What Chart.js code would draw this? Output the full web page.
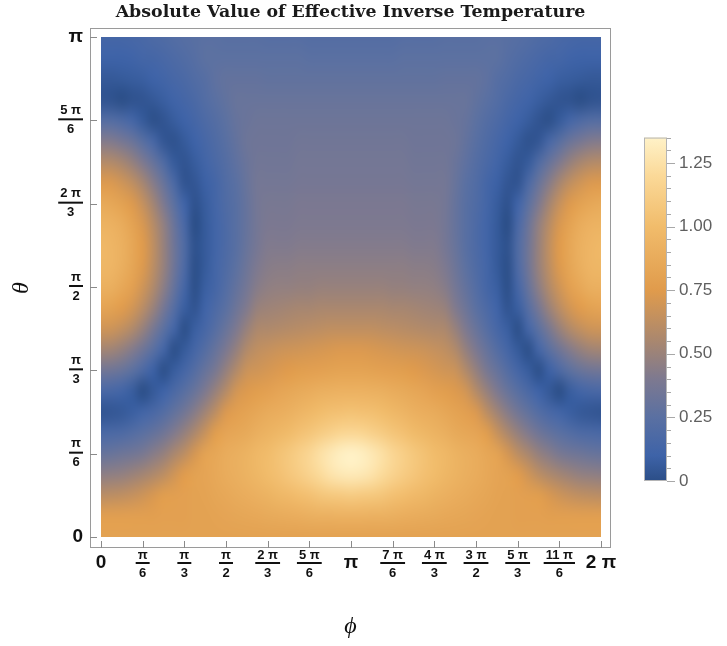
<!DOCTYPE html>
<html><head><meta charset="utf-8">
<script src="https://cdn.jsdelivr.net/npm/chart.js@4.4.1/dist/chart.umd.min.js"></script>
<style>html,body{margin:0;padding:0;background:#fff;}canvas{display:block;}</style>
</head><body>
<canvas id="c" width="727" height="646"></canvas>
<script>
const PI = Math.PI;
const chartTitle = 'Absolute Value of Effective Inverse Temperature';
const xAxisTitle = 'ϕ';
const yAxisTitle = 'θ';

// grid nodes: phi and theta in units of PI/24
const phiUnits = [0,1,2,3,4,5,6,7,8,9,10,11,12,13,14,15,16,17,18,19,20,21,22,23,24,25,26,27,28,29,30,31,32,33,34,35,36,37,38,39,40,41,42,43,44,45,46,47,48];
const thetaUnits = [0,1,2,3,4,5,6,7,8,9,10,11,12,13,14,15,16,17,18,19,20,21,22,23,24];

// |beta_eff|, one row per theta node (theta = 0 ... pi), phi = 0 ... 2pi
const th00 = [0.80,0.80,0.80,0.80,0.80,0.80,0.80,0.80,0.80,0.80,0.80,0.80,0.80,0.80,0.80,0.80,0.80,0.80,0.80,0.80,0.80,0.80,0.80,0.80,0.80,0.80,0.80,0.80,0.80,0.80,0.80,0.80,0.80,0.80,0.80,0.80,0.80,0.80,0.80,0.80,0.80,0.80,0.80,0.80,0.80,0.80,0.80,0.80,0.80];
const th01 = [0.78,0.78,0.78,0.78,0.78,0.78,0.79,0.79,0.79,0.80,0.80,0.81,0.82,0.83,0.84,0.85,0.86,0.87,0.88,0.89,0.90,0.91,0.91,0.92,0.92,0.92,0.91,0.91,0.90,0.89,0.88,0.87,0.86,0.85,0.84,0.83,0.82,0.81,0.80,0.80,0.79,0.79,0.79,0.78,0.78,0.78,0.78,0.78,0.78];
const th02 = [0.61,0.62,0.63,0.65,0.68,0.72,0.77,0.78,0.79,0.80,0.81,0.83,0.85,0.87,0.89,0.91,0.93,0.96,0.98,1.01,1.03,1.06,1.08,1.09,1.10,1.09,1.08,1.06,1.03,1.01,0.98,0.96,0.93,0.91,0.89,0.87,0.85,0.83,0.81,0.80,0.79,0.78,0.77,0.72,0.68,0.65,0.63,0.62,0.61];
const th03 = [0.45,0.46,0.47,0.50,0.53,0.57,0.62,0.69,0.76,0.80,0.82,0.85,0.88,0.90,0.93,0.96,1.00,1.03,1.07,1.11,1.16,1.21,1.26,1.29,1.30,1.29,1.26,1.21,1.16,1.11,1.07,1.03,1.00,0.96,0.93,0.90,0.88,0.85,0.82,0.80,0.76,0.69,0.62,0.57,0.53,0.50,0.47,0.46,0.45];
const th04 = [0.30,0.31,0.33,0.35,0.38,0.43,0.48,0.55,0.62,0.71,0.81,0.84,0.88,0.90,0.93,0.97,1.00,1.04,1.08,1.13,1.18,1.24,1.29,1.33,1.35,1.33,1.29,1.24,1.18,1.13,1.08,1.04,1.00,0.97,0.93,0.90,0.88,0.84,0.81,0.71,0.62,0.55,0.48,0.43,0.38,0.35,0.33,0.31,0.30];
const th05 = [0.16,0.17,0.18,0.21,0.25,0.29,0.34,0.41,0.48,0.56,0.66,0.77,0.82,0.84,0.86,0.90,0.93,0.96,0.99,1.03,1.06,1.10,1.14,1.17,1.18,1.17,1.14,1.10,1.06,1.03,0.99,0.96,0.93,0.90,0.86,0.84,0.82,0.77,0.66,0.56,0.48,0.41,0.34,0.29,0.25,0.21,0.18,0.17,0.16];
const th06 = [0.03,0.04,0.05,0.08,0.12,0.16,0.21,0.28,0.35,0.43,0.52,0.62,0.73,0.78,0.81,0.84,0.87,0.89,0.91,0.94,0.97,1.00,1.02,1.03,1.04,1.03,1.02,1.00,0.97,0.94,0.91,0.89,0.87,0.84,0.81,0.78,0.73,0.62,0.52,0.43,0.35,0.28,0.21,0.16,0.12,0.08,0.05,0.04,0.03];
const th07 = [0.16,0.15,0.12,0.07,0.00,0.05,0.10,0.17,0.24,0.31,0.40,0.49,0.59,0.70,0.74,0.77,0.79,0.82,0.84,0.86,0.88,0.90,0.91,0.92,0.92,0.92,0.91,0.90,0.88,0.86,0.84,0.82,0.79,0.77,0.74,0.70,0.59,0.49,0.40,0.31,0.24,0.17,0.10,0.05,0.00,0.07,0.12,0.15,0.16];
const th08 = [0.35,0.34,0.31,0.26,0.18,0.09,0.01,0.07,0.14,0.22,0.30,0.38,0.48,0.58,0.67,0.69,0.71,0.73,0.75,0.77,0.78,0.79,0.80,0.81,0.81,0.81,0.80,0.79,0.78,0.77,0.75,0.73,0.71,0.69,0.67,0.58,0.48,0.38,0.30,0.22,0.14,0.07,0.01,0.09,0.18,0.26,0.31,0.34,0.35];
const th09 = [0.53,0.52,0.48,0.42,0.34,0.25,0.13,0.01,0.06,0.14,0.22,0.30,0.39,0.48,0.58,0.63,0.65,0.67,0.68,0.69,0.70,0.71,0.72,0.73,0.73,0.73,0.72,0.71,0.70,0.69,0.68,0.67,0.65,0.63,0.58,0.48,0.39,0.30,0.22,0.14,0.06,0.01,0.13,0.25,0.34,0.42,0.48,0.52,0.53];
const th10 = [0.69,0.68,0.64,0.58,0.49,0.38,0.26,0.13,0.01,0.08,0.15,0.23,0.31,0.40,0.49,0.56,0.57,0.58,0.59,0.60,0.61,0.62,0.63,0.63,0.63,0.63,0.63,0.62,0.61,0.60,0.59,0.58,0.57,0.56,0.49,0.40,0.31,0.23,0.15,0.08,0.01,0.13,0.26,0.38,0.49,0.58,0.64,0.68,0.69];
const th11 = [0.82,0.80,0.76,0.70,0.61,0.50,0.37,0.23,0.08,0.03,0.11,0.18,0.25,0.33,0.41,0.49,0.51,0.52,0.53,0.54,0.54,0.55,0.55,0.55,0.55,0.55,0.55,0.55,0.54,0.54,0.53,0.52,0.51,0.49,0.41,0.33,0.25,0.18,0.11,0.03,0.08,0.23,0.37,0.50,0.61,0.70,0.76,0.80,0.82];
const th12 = [0.91,0.90,0.85,0.79,0.69,0.58,0.45,0.30,0.14,0.01,0.08,0.14,0.21,0.29,0.36,0.43,0.46,0.47,0.47,0.48,0.48,0.49,0.49,0.49,0.49,0.49,0.49,0.49,0.48,0.48,0.47,0.47,0.46,0.43,0.36,0.29,0.21,0.14,0.08,0.01,0.14,0.30,0.45,0.58,0.69,0.79,0.85,0.90,0.91];
const th13 = [0.96,0.95,0.90,0.83,0.74,0.62,0.49,0.34,0.18,0.01,0.06,0.13,0.19,0.26,0.33,0.40,0.43,0.44,0.44,0.45,0.45,0.45,0.45,0.45,0.45,0.45,0.45,0.45,0.45,0.45,0.44,0.44,0.43,0.40,0.33,0.26,0.19,0.13,0.06,0.01,0.18,0.34,0.49,0.62,0.74,0.83,0.90,0.95,0.96];
const th14 = [0.97,0.95,0.91,0.84,0.75,0.63,0.49,0.34,0.19,0.02,0.06,0.12,0.18,0.24,0.31,0.37,0.41,0.41,0.41,0.42,0.42,0.42,0.42,0.42,0.42,0.42,0.42,0.42,0.42,0.42,0.41,0.41,0.41,0.37,0.31,0.24,0.18,0.12,0.06,0.02,0.19,0.34,0.49,0.63,0.75,0.84,0.91,0.95,0.97];
const th15 = [0.93,0.92,0.88,0.81,0.72,0.60,0.47,0.32,0.16,0.00,0.06,0.12,0.18,0.24,0.30,0.36,0.39,0.39,0.39,0.40,0.40,0.40,0.40,0.40,0.40,0.40,0.40,0.40,0.40,0.40,0.39,0.39,0.39,0.36,0.30,0.24,0.18,0.12,0.06,0.00,0.16,0.32,0.47,0.60,0.72,0.81,0.88,0.92,0.93];
const th16 = [0.86,0.84,0.80,0.74,0.65,0.53,0.40,0.26,0.11,0.02,0.07,0.13,0.19,0.24,0.30,0.36,0.38,0.38,0.38,0.39,0.39,0.39,0.39,0.39,0.39,0.39,0.39,0.39,0.39,0.39,0.38,0.38,0.38,0.36,0.30,0.24,0.19,0.13,0.07,0.02,0.11,0.26,0.40,0.53,0.65,0.74,0.80,0.84,0.86];
const th17 = [0.74,0.73,0.69,0.63,0.54,0.43,0.31,0.17,0.03,0.04,0.09,0.14,0.20,0.25,0.31,0.36,0.36,0.36,0.36,0.37,0.37,0.37,0.37,0.37,0.37,0.37,0.37,0.37,0.37,0.37,0.36,0.36,0.36,0.36,0.31,0.25,0.20,0.14,0.09,0.04,0.03,0.17,0.31,0.43,0.54,0.63,0.69,0.73,0.74];
const th18 = [0.59,0.58,0.54,0.48,0.40,0.30,0.19,0.06,0.03,0.07,0.12,0.17,0.22,0.27,0.32,0.35,0.35,0.35,0.35,0.36,0.36,0.36,0.36,0.36,0.36,0.36,0.36,0.36,0.36,0.36,0.35,0.35,0.35,0.35,0.32,0.27,0.22,0.17,0.12,0.07,0.03,0.06,0.19,0.30,0.40,0.48,0.54,0.58,0.59];
const th19 = [0.42,0.41,0.37,0.32,0.24,0.15,0.04,0.02,0.06,0.10,0.15,0.19,0.24,0.29,0.33,0.34,0.34,0.34,0.34,0.35,0.35,0.35,0.35,0.35,0.35,0.35,0.35,0.35,0.35,0.35,0.34,0.34,0.34,0.34,0.33,0.29,0.24,0.19,0.15,0.10,0.06,0.02,0.04,0.15,0.24,0.32,0.37,0.41,0.42];
const th20 = [0.22,0.21,0.18,0.13,0.06,0.01,0.03,0.07,0.10,0.14,0.18,0.22,0.26,0.30,0.32,0.33,0.33,0.33,0.33,0.33,0.33,0.33,0.33,0.33,0.33,0.33,0.33,0.33,0.33,0.33,0.33,0.33,0.33,0.33,0.32,0.30,0.26,0.22,0.18,0.14,0.10,0.07,0.03,0.01,0.06,0.13,0.18,0.21,0.22];
const th21 = [0.03,0.02,0.00,0.02,0.03,0.05,0.08,0.11,0.14,0.17,0.21,0.25,0.28,0.31,0.31,0.31,0.31,0.31,0.31,0.31,0.31,0.31,0.31,0.31,0.31,0.31,0.31,0.31,0.31,0.31,0.31,0.31,0.31,0.31,0.31,0.31,0.28,0.25,0.21,0.17,0.14,0.11,0.08,0.05,0.03,0.02,0.00,0.02,0.03];
const th22 = [0.05,0.05,0.06,0.07,0.08,0.10,0.12,0.15,0.17,0.20,0.23,0.27,0.29,0.29,0.29,0.29,0.28,0.28,0.28,0.28,0.28,0.28,0.28,0.28,0.28,0.28,0.28,0.28,0.28,0.28,0.28,0.28,0.28,0.29,0.29,0.29,0.29,0.27,0.23,0.20,0.17,0.15,0.12,0.10,0.08,0.07,0.06,0.05,0.05];
const th23 = [0.10,0.10,0.10,0.11,0.13,0.14,0.16,0.18,0.20,0.23,0.26,0.26,0.26,0.26,0.26,0.26,0.26,0.26,0.26,0.26,0.25,0.25,0.25,0.25,0.25,0.25,0.25,0.25,0.25,0.26,0.26,0.26,0.26,0.26,0.26,0.26,0.26,0.26,0.26,0.23,0.20,0.18,0.16,0.14,0.13,0.11,0.10,0.10,0.10];
const th24 = [0.14,0.14,0.14,0.15,0.16,0.18,0.19,0.21,0.23,0.24,0.25,0.25,0.24,0.24,0.24,0.24,0.23,0.23,0.23,0.23,0.22,0.22,0.22,0.22,0.22,0.22,0.22,0.22,0.22,0.23,0.23,0.23,0.23,0.24,0.24,0.24,0.24,0.25,0.25,0.24,0.23,0.21,0.19,0.18,0.16,0.15,0.14,0.14,0.14];
const betaRows = [th00,th01,th02,th03,th04,th05,th06,th07,th08,th09,th10,th11,th12,th13,th14,th15,th16,th17,th18,th19,th20,th21,th22,th23,th24];

// tick labels (positions in units of PI/6)
const xTickUnits = [0,1,2,3,4,5,6,7,8,9,10,11,12];
const xTickNum = ['0','π','π','π','2 π','5 π','π','7 π','4 π','3 π','5 π','11 π','2 π'];
const xTickDen = ['','6','3','2','3','6','','6','3','2','3','6',''];
const yTickUnits = [0,1,2,3,4,5,6];
const yTickNum = ['0','π','π','π','2 π','5 π','π'];
const yTickDen = ['','6','3','2','3','6',''];

// colour bar
const cbRange = [0, 1.35];
const cbTicks = [0, 0.25, 0.5, 0.75, 1.0, 1.25];
const cbLabels = ['0','0.25','0.50','0.75','1.00','1.25'];
const cmapValues = [0, 0.1, 0.25, 0.4, 0.55, 0.75, 1.0, 1.2, 1.35];
const cmapColors = ['#2b4e87','#3e63a8','#5a70a2','#7d7990','#a9876f','#e09b4c','#f1bc6b','#fbd998','#fff2c8'];

function hexRgb(h){return [parseInt(h.slice(1,3),16),parseInt(h.slice(3,5),16),parseInt(h.slice(5,7),16)];}
const cmapRgb = cmapColors.map(hexRgb);
function colorFor(v){
  if (v <= cmapValues[0]) return cmapRgb[0];
  for (let k = 1; k < cmapValues.length; k++) {
    if (v <= cmapValues[k]) {
      const t = (v - cmapValues[k-1]) / (cmapValues[k] - cmapValues[k-1]);
      const a = cmapRgb[k-1], b = cmapRgb[k];
      return [a[0]+(b[0]-a[0])*t, a[1]+(b[1]-a[1])*t, a[2]+(b[2]-a[2])*t];
    }
  }
  return cmapRgb[cmapRgb.length-1];
}

const points = [];
thetaUnits.forEach((ti, i) => {
  phiUnits.forEach((pj, j) => {
    points.push({x: pj * PI / 24, y: ti * PI / 24, v: betaRows[i][j], i: i, j: j});
  });
});

const FONT = '"Liberation Sans", Arial, sans-serif';

const heatPlugin = {
  id: 'heat',
  beforeDatasetsDraw(chart) {
    const ctx = chart.ctx, xs = chart.scales.x, ys = chart.scales.y;
    const nx = phiUnits.length, ny = thetaUnits.length;
    const off = document.createElement('canvas');
    off.width = nx; off.height = ny;
    const octx = off.getContext('2d');
    const img = octx.createImageData(nx, ny);
    chart.data.datasets[0].data.forEach(p => {
      const c = colorFor(p.v);
      const idx = ((ny - 1 - p.i) * nx + p.j) * 4;
      img.data[idx] = Math.round(c[0]); img.data[idx+1] = Math.round(c[1]);
      img.data[idx+2] = Math.round(c[2]); img.data[idx+3] = 255;
    });
    octx.putImageData(img, 0, 0);
    const x0 = xs.getPixelForValue(phiUnits[0] * PI / 24);
    const x1 = xs.getPixelForValue(phiUnits[nx-1] * PI / 24);
    const y0 = ys.getPixelForValue(thetaUnits[0] * PI / 24);
    const y1 = ys.getPixelForValue(thetaUnits[ny-1] * PI / 24);
    const sx = (x1 - x0) / (nx - 1), sy = (y0 - y1) / (ny - 1);
    ctx.save();
    ctx.beginPath(); ctx.rect(x0, y1, x1 - x0, y0 - y1); ctx.clip();
    ctx.imageSmoothingEnabled = true; ctx.imageSmoothingQuality = 'high';
    ctx.drawImage(off, x0 - sx / 2, y1 - sy / 2, nx * sx, ny * sy);
    ctx.restore();
  },
  afterDraw(chart) {
    const ctx = chart.ctx, xs = chart.scales.x, ys = chart.scales.y, cs = chart.scales.cb;
    const ca = chart.chartArea;
    ctx.save();
    // frame
    ctx.strokeStyle = '#9a9a9a'; ctx.lineWidth = 1;
    ctx.strokeRect(ca.left + 0.5, ca.top + 0.5, ca.right - ca.left - 1, ca.bottom - ca.top - 1);
    // ticks
    ctx.strokeStyle = '#8a8a8a';
    ctx.beginPath();
    xTickUnits.forEach(u => {
      const px = Math.round(xs.getPixelForValue(u * PI / 6)) + 0.5;
      ctx.moveTo(px, ca.bottom); ctx.lineTo(px, ca.bottom - 7);
    });
    yTickUnits.forEach(u => {
      const py = Math.round(ys.getPixelForValue(u * PI / 6)) + 0.5;
      ctx.moveTo(ca.left, py); ctx.lineTo(ca.left + 7, py);
    });
    ctx.stroke();
    // tick labels
    ctx.fillStyle = '#111';
    const big = 'bold 19px ' + FONT, small = 'bold 13px ' + FONT;
    ctx.textBaseline = 'middle';
    xTickUnits.forEach((u, k) => {
      const px = xs.getPixelForValue(u * PI / 6);
      const ly = ca.bottom + 15;
      ctx.textAlign = 'center';
      if (!xTickDen[k]) {
        ctx.font = big; ctx.fillText(xTickNum[k], px, ly);
      } else {
        ctx.font = small;
        const w = Math.max(ctx.measureText(xTickNum[k]).width, ctx.measureText(xTickDen[k]).width) + 4;
        ctx.fillText(xTickNum[k], px, ly - 8);
        ctx.fillRect(px - w / 2, ly - 1, w, 2);
        ctx.fillText(xTickDen[k], px, ly + 10);
      }
    });
    const rx = ca.left - 7;
    yTickUnits.forEach((u, k) => {
      const py = ys.getPixelForValue(u * PI / 6);
      if (!yTickDen[k]) {
        ctx.font = big; ctx.textAlign = 'right'; ctx.fillText(yTickNum[k], rx, py);
      } else {
        ctx.font = small; ctx.textAlign = 'center';
        const w = Math.max(ctx.measureText(yTickNum[k]).width, ctx.measureText(yTickDen[k]).width) + 4;
        const cx = rx - w / 2;
        ctx.fillText(yTickNum[k], cx, py - 10);
        ctx.fillRect(cx - w / 2, py - 2, w, 2);
        ctx.fillText(yTickDen[k], cx, py + 9);
      }
    });
    // axis titles
    ctx.font = 'italic 24px "Liberation Serif", "Times New Roman", serif';
    ctx.textAlign = 'center'; ctx.textBaseline = 'middle';
    ctx.fillText(xAxisTitle, (ca.left + ca.right) / 2, ca.bottom + 79);
    ctx.save();
    ctx.translate(22, (ca.top + ca.bottom) / 2);
    ctx.rotate(-PI / 2);
    ctx.fillText(yAxisTitle, 0, 0);
    ctx.restore();
    // title
    let ts = 15;
    ctx.font = 'bold ' + ts + 'px "DejaVu Serif", serif';
    ts = ts * 470 / ctx.measureText(chartTitle).width;
    ctx.font = 'bold ' + ts.toFixed(2) + 'px "DejaVu Serif", serif';
    ctx.fillStyle = '#1a1a1a';
    ctx.textBaseline = 'alphabetic';
    ctx.fillText(chartTitle, (ca.left + ca.right) / 2, 17);
    // colour bar
    const bx = cs.left + 33, bw = 23;
    const yb0 = cs.getPixelForValue(cbRange[0]), yb1 = cs.getPixelForValue(cbRange[1]);
    const g = ctx.createLinearGradient(0, yb0, 0, yb1);
    cmapValues.forEach((v, k) => g.addColorStop((v - cbRange[0]) / (cbRange[1] - cbRange[0]), cmapColors[k]));
    ctx.fillStyle = g;
    ctx.fillRect(bx, yb1, bw, yb0 - yb1);
    ctx.strokeStyle = '#b5b5b5';
    ctx.strokeRect(bx + 0.5, yb1 + 0.5, bw - 1, yb0 - yb1 - 1);
    ctx.strokeStyle = '#a8a8a8';
    ctx.beginPath();
    for (let m = 0; m <= 27; m++) {
      const v = m * 0.05;
      const py = Math.round(cs.getPixelForValue(v)) + 0.5;
      const major = (m % 5 === 0);
      ctx.moveTo(bx + bw, py); ctx.lineTo(bx + bw + (major ? 8 : 4), py);
    }
    ctx.stroke();
    ctx.fillStyle = '#5f5f5f';
    ctx.font = '17px ' + FONT;
    ctx.textAlign = 'left'; ctx.textBaseline = 'middle';
    cbTicks.forEach((v, k) => {
      ctx.fillText(cbLabels[k], bx + bw + 12, cs.getPixelForValue(v));
    });
    ctx.restore();
  }
};

new Chart(document.getElementById('c'), {
  type: 'scatter',
  data: { datasets: [{ data: points, pointRadius: 0, pointHoverRadius: 0, showLine: false }] },
  options: {
    responsive: false, animation: false, devicePixelRatio: 1, events: [],
    layout: { padding: { top: 28, left: 0, right: 0, bottom: 0 } },
    plugins: { legend: { display: false }, tooltip: { enabled: false }, title: { display: false } },
    scales: {
      x: { type: 'linear', min: -0.1382, max: 2 * PI + 0.1257,
           ticks: { display: false }, grid: { display: false }, border: { display: false },
           afterFit: s => { s.height = 98; } },
      y: { type: 'linear', position: 'left', min: -0.0691, max: PI + 0.0565,
           ticks: { display: false }, grid: { display: false }, border: { display: false },
           afterFit: s => { s.width = 90; } },
      cb: { type: 'linear', axis: 'y', position: 'right', min: -0.2634, max: 1.7807,
            ticks: { display: false }, grid: { display: false }, border: { display: false },
            afterFit: s => { s.width = 116; } }
    }
  },
  plugins: [heatPlugin]
});
</script>
</body></html>
